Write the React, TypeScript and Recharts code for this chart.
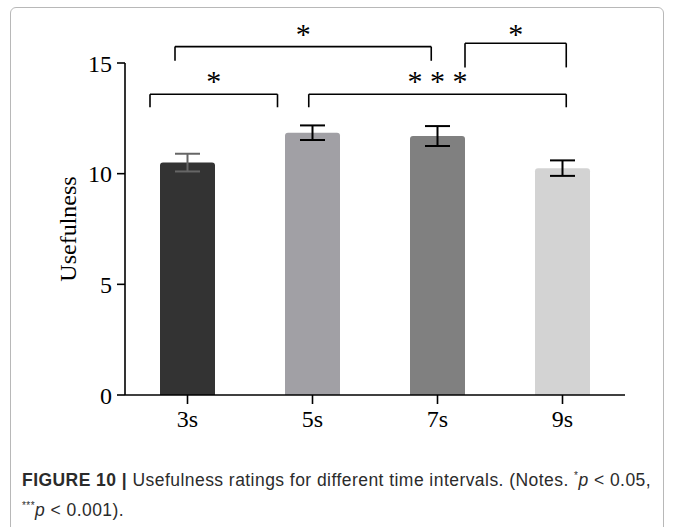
import { BarChart, Bar, Cell, XAxis, YAxis, ErrorBar, ReferenceLine, ReferenceDot } from 'recharts';

const categories = ['3s', '5s', '7s', '9s'];
const means = [10.5, 11.85, 11.7, 10.25];
const errors = [0.4, 0.33, 0.45, 0.35];
const yTicks = [0, 5, 10, 15];

// significance brackets, x in category units (0..4), y in rating units
const bracketFrom = [0.4, 2.72, 0.2, 1.47];
const bracketTo = [2.45, 3.53, 1.22, 3.53];
const bracketLevel = [15.74, 15.89, 13.59, 13.59];
const bracketFoot = [15.1, 14.8, 13.0, 13.0];
const bracketMark = ['*', '*', '*', '* * *'];
const markLevel = [16.35, 16.35, 14.2, 14.2];

const barColors = ['#333333', '#a1a0a5', '#808080', '#d3d3d3'];
const errColors = ['#666666', '#000000', '#000000', '#000000'];

const serif = '"Liberation Serif", "Times New Roman", serif';

const data = categories.map((name, i) => ({
  name,
  pos: i + 0.5,
  value: means[i],
  errGray: errColors[i] !== '#000000' ? errors[i] : null,
  errBlack: errColors[i] === '#000000' ? errors[i] : null,
}));

export default function App() {
  return (
    <div style={{ position: 'absolute', left: 0, top: 0, width: 675, height: 527, overflow: 'hidden', background: '#fff' }}>
      <div
        style={{
          position: 'absolute',
          left: 10,
          top: 7,
          width: 654,
          height: 560,
          border: '1px solid #b8b8b8',
          borderRadius: 6,
          boxSizing: 'border-box',
        }}
      />
      <div style={{ position: 'absolute', left: 0, top: 0 }}>
        <BarChart width={675} height={440} data={data} margin={{ top: 63, right: 50, bottom: 15, left: 10 }}>
          <XAxis
            dataKey="name"
            stroke="#000"
            strokeWidth={1.6}
            tickSize={9}
            tickMargin={6}
            height={30}
            tick={{ fill: '#000', fontSize: 24, fontFamily: serif }}
          />
          <XAxis xAxisId="n" type="number" dataKey="pos" domain={[0, 4]} allowDataOverflow hide />
          <YAxis
            domain={[0, 15]}
            ticks={yTicks}
            width={115}
            stroke="#000"
            strokeWidth={1.6}
            tickSize={8}
            tickMargin={5}
            tick={{ fill: '#000', fontSize: 24, fontFamily: serif }}
            label={{ value: 'Usefulness', angle: -90, position: 'center', fill: '#000', fontSize: 24, fontFamily: serif }}
          />
          <Bar dataKey="value" barSize={55} radius={[3, 3, 0, 0]} isAnimationActive={false}>
            {data.map((d, i) => (
              <Cell key={d.name} fill={barColors[i]} />
            ))}
            <ErrorBar dataKey="errGray" width={12.5} stroke={errColors[0]} strokeWidth={2} />
            <ErrorBar dataKey="errBlack" width={12.5} stroke="#000" strokeWidth={2} />
          </Bar>
          {bracketFrom.map((from, i) => (
            <ReferenceLine
              key={'h' + i}
              xAxisId="n"
              ifOverflow="visible"
              stroke="#000"
              strokeWidth={1.6}
              segment={[
                { x: from, y: bracketLevel[i] },
                { x: bracketTo[i], y: bracketLevel[i] },
              ]}
            />
          ))}
          {bracketFrom.map((from, i) => (
            <ReferenceLine
              key={'l' + i}
              xAxisId="n"
              ifOverflow="visible"
              stroke="#000"
              strokeWidth={1.6}
              segment={[
                { x: from, y: bracketLevel[i] },
                { x: from, y: bracketFoot[i] },
              ]}
            />
          ))}
          {bracketTo.map((to, i) => (
            <ReferenceLine
              key={'r' + i}
              xAxisId="n"
              ifOverflow="visible"
              stroke="#000"
              strokeWidth={1.6}
              segment={[
                { x: to, y: bracketLevel[i] },
                { x: to, y: bracketFoot[i] },
              ]}
            />
          ))}
          {bracketFrom.map((from, i) => (
            <ReferenceDot
              key={'m' + i}
              xAxisId="n"
              x={(from + bracketTo[i]) / 2}
              y={markLevel[i]}
              r={0}
              stroke="none"
              ifOverflow="visible"
              label={{ value: bracketMark[i], position: 'center', fill: '#000', fontSize: 30, fontFamily: serif }}
            />
          ))}
        </BarChart>
      </div>
      <div
        style={{
          position: 'absolute',
          left: 22,
          top: 463,
          width: 645,
          fontFamily: '"Liberation Sans", Arial, sans-serif',
          fontSize: 17.5,
          letterSpacing: 0.45,
          lineHeight: '25px',
          color: '#2b2b2b',
          whiteSpace: 'nowrap',
        }}
      >
        <b>FIGURE 10 |</b> Usefulness ratings for different time intervals. (Notes. <sup style={{ fontSize: 10 }}>*</sup>
        <i>p</i> &lt; 0.05,
        <br />
        <sup style={{ fontSize: 10 }}>***</sup>
        <i>p</i> &lt; 0.001).
      </div>
    </div>
  );
}
